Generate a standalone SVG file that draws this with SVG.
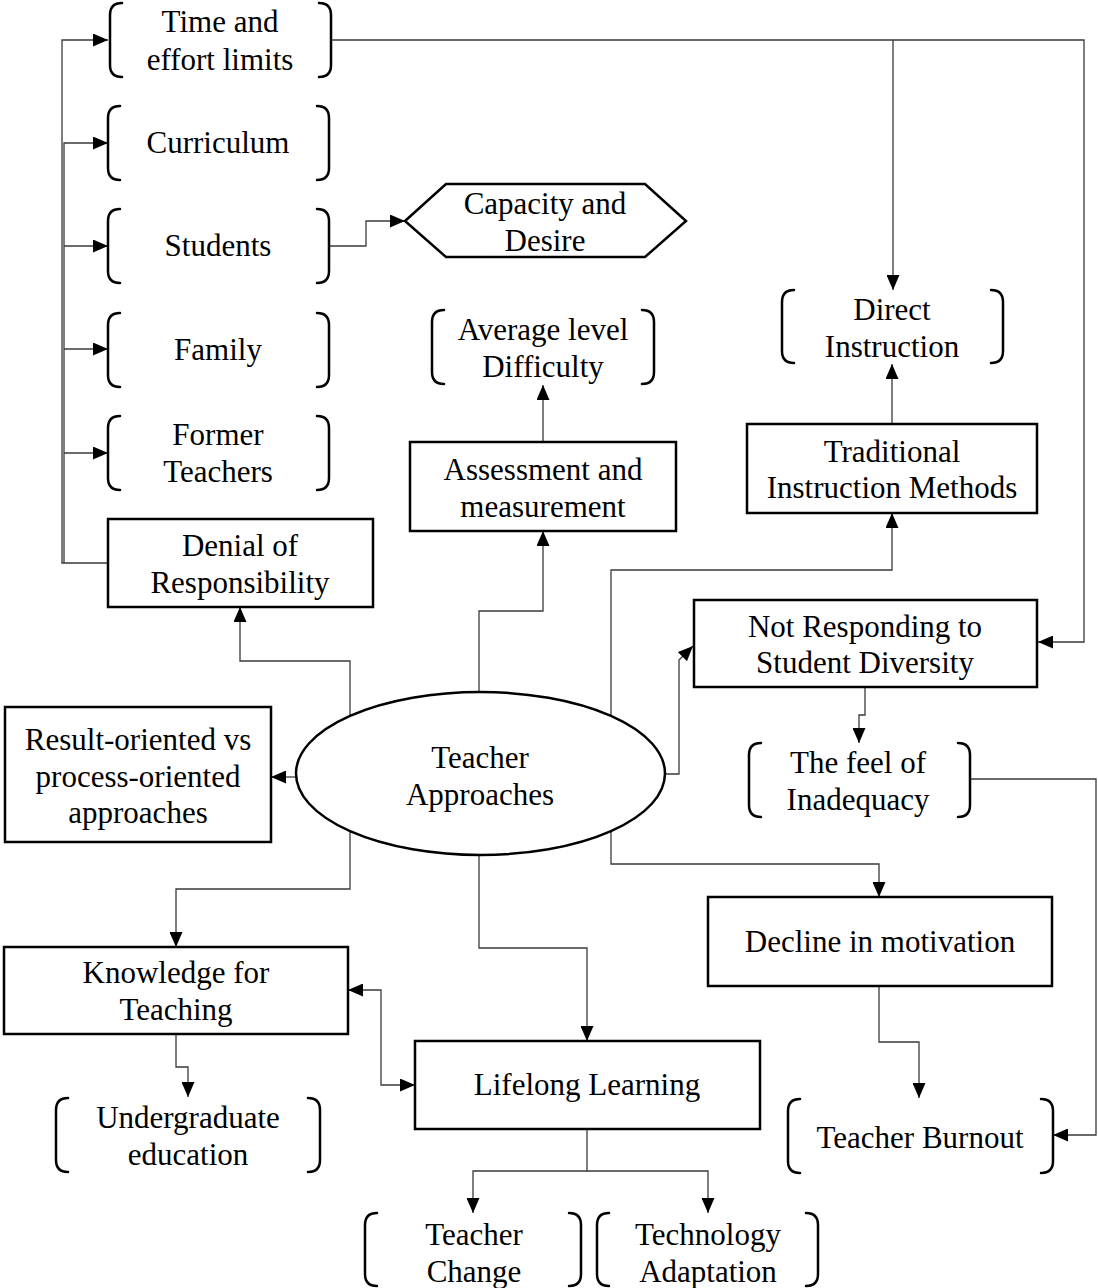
<svg xmlns="http://www.w3.org/2000/svg" width="1098" height="1288" viewBox="0 0 1098 1288" font-family="'Liberation Serif', 'DejaVu Serif', serif">
  <style>
    text { font-family: 'Liberation Serif', 'DejaVu Serif', serif; font-size: 31px; fill: #000; text-anchor: middle; }
    .box { fill: #fff; stroke: #000; stroke-width: 2.5; }
    .br { fill: none; stroke: #000; stroke-width: 2.5; stroke-linecap: round; }
    .c { fill: none; stroke: #3a3a3a; stroke-width: 1.3; }
    .a { marker-end: url(#arr); }
  </style>
  <defs>
    <marker id="arr" viewBox="0 0 15 13" markerWidth="15" markerHeight="13" markerUnits="userSpaceOnUse" refX="15" refY="6.5" orient="auto-start-reverse">
      <path d="M0,0 L15,6.5 L0,13 z" fill="#000"/>
    </marker>
  </defs>
  <rect width="1098" height="1288" fill="#fff"/>

  <!-- connectors -->
  <g id="connectors">
    <path class="c a" d="M331,40 H1084 V642 H1038"/>
    <path class="c a" d="M893,40 V290"/>
    <path class="c a" d="M108,563 H62 V40 H108"/>
    <path class="c a" d="M64,563 V143 H108"/>
    <path class="c a" d="M64,246 H108"/>
    <path class="c a" d="M64,349 H108"/>
    <path class="c a" d="M64,453 H108"/>
    <path class="c a" d="M329,246 H366 V221 H405"/>
    <path class="c a" d="M350,716 V661 H240 V607"/>
    <path class="c a" d="M479,692 V611 H543 V531"/>
    <path class="c a" d="M543,442 V385"/>
    <path class="c a" d="M892,424 V364"/>
    <path class="c a" d="M611,716 V570 H892 V513"/>
    <path class="c a" d="M665,774 H679 V660 L693,646"/>
    <path class="c a" d="M865,687 V715 H859 V743"/>
    <path class="c a" d="M970,779 H1096 V1135 H1053"/>
    <path class="c a" d="M296,777 H271"/>
    <path class="c a" d="M611,831 V864 H879 V897"/>
    <path class="c a" d="M879,986 V1042 H919 V1098"/>
    <path class="c a" d="M350,831 V889 H176 V947"/>
    <path class="c a" d="M176,1034 V1067 H188 V1097"/>
    <path class="c a" d="M348,990 H381 V1085 H415" marker-start="url(#arr)"/>
    <path class="c a" d="M479,855 V948 H587 V1041"/>
    <path class="c a" d="M587,1129 V1171 H473 V1213"/>
    <path class="c a" d="M587,1171 H708 V1213"/>
  </g>

  <!-- central node -->
  <g id="teacher-approaches">
    <ellipse class="box" cx="480.5" cy="773.5" rx="184.5" ry="81.5"/>
    <text x="480" y="768">Teacher</text>
    <text x="480" y="805">Approaches</text>
  </g>

  <!-- bracketed nodes -->
  <g id="time-effort">
    <path class="br" d="M122,3 Q110,3 110,15 V65 Q110,77 122,77 M319,3 Q331,3 331,15 V65 Q331,77 319,77"/>
    <text x="220" y="32">Time and</text>
    <text x="220" y="70">effort limits</text>
  </g>
  <g id="curriculum">
    <path class="br" d="M120,106 Q108,106 108,118 V168 Q108,180 120,180 M317,106 Q329,106 329,118 V168 Q329,180 317,180"/>
    <text x="218" y="153">Curriculum</text>
  </g>
  <g id="students">
    <path class="br" d="M120,209 Q108,209 108,221 V271 Q108,283 120,283 M317,209 Q329,209 329,221 V271 Q329,283 317,283"/>
    <text x="218" y="256">Students</text>
  </g>
  <g id="family">
    <path class="br" d="M120,313 Q108,313 108,325 V375 Q108,387 120,387 M317,313 Q329,313 329,325 V375 Q329,387 317,387"/>
    <text x="218" y="360">Family</text>
  </g>
  <g id="former-teachers">
    <path class="br" d="M120,416 Q108,416 108,428 V478 Q108,490 120,490 M317,416 Q329,416 329,428 V478 Q329,490 317,490"/>
    <text x="218" y="445">Former</text>
    <text x="218" y="482">Teachers</text>
  </g>
  <g id="average-difficulty">
    <path class="br" d="M444,310 Q432,310 432,322 V372 Q432,384 444,384 M642,310 Q654,310 654,322 V372 Q654,384 642,384"/>
    <text x="543" y="340">Average level</text>
    <text x="543" y="377">Difficulty</text>
  </g>
  <g id="direct-instruction">
    <path class="br" d="M794,290 Q782,290 782,302 V351 Q782,363 794,363 M991,290 Q1003,290 1003,302 V351 Q1003,363 991,363"/>
    <text x="892" y="320">Direct</text>
    <text x="892" y="357">Instruction</text>
  </g>
  <g id="feel-inadequacy">
    <path class="br" d="M761,743 Q749,743 749,755 V805 Q749,817 761,817 M958,743 Q970,743 970,755 V805 Q970,817 958,817"/>
    <text x="858" y="773">The feel of</text>
    <text x="858" y="810">Inadequacy</text>
  </g>
  <g id="undergraduate">
    <path class="br" d="M68,1098 Q56,1098 56,1110 V1160 Q56,1172 68,1172 M308,1098 Q320,1098 320,1110 V1160 Q320,1172 308,1172"/>
    <text x="188" y="1128">Undergraduate</text>
    <text x="188" y="1165">education</text>
  </g>
  <g id="teacher-burnout">
    <path class="br" d="M800,1099 Q788,1099 788,1111 V1161 Q788,1173 800,1173 M1041,1099 Q1053,1099 1053,1111 V1161 Q1053,1173 1041,1173"/>
    <text x="920" y="1148">Teacher Burnout</text>
  </g>
  <g id="teacher-change">
    <path class="br" d="M377,1213 Q365,1213 365,1225 V1274 Q365,1286 377,1286 M569,1213 Q581,1213 581,1225 V1274 Q581,1286 569,1286"/>
    <text x="474" y="1245">Teacher</text>
    <text x="474" y="1282">Change</text>
  </g>
  <g id="technology-adaptation">
    <path class="br" d="M609,1213 Q597,1213 597,1225 V1274 Q597,1286 609,1286 M806,1213 Q818,1213 818,1225 V1274 Q818,1286 806,1286"/>
    <text x="708" y="1245">Technology</text>
    <text x="708" y="1282">Adaptation</text>
  </g>

  <!-- hexagon node -->
  <g id="capacity-desire">
    <polygon class="box" points="405,221 446,184 645,184 686,221 645,257 446,257"/>
    <text x="545" y="214">Capacity and</text>
    <text x="545" y="251">Desire</text>
  </g>

  <!-- rectangular nodes -->
  <g id="denial">
    <rect class="box" x="108" y="519" width="265" height="88"/>
    <text x="240" y="556">Denial of</text>
    <text x="240" y="593">Responsibility</text>
  </g>
  <g id="assessment">
    <rect class="box" x="410" y="442" width="266" height="89"/>
    <text x="543" y="480">Assessment and</text>
    <text x="543" y="517">measurement</text>
  </g>
  <g id="traditional">
    <rect class="box" x="747" y="424" width="290" height="89"/>
    <text x="892" y="462">Traditional</text>
    <text x="892" y="498">Instruction Methods</text>
  </g>
  <g id="not-responding">
    <rect class="box" x="694" y="600" width="343" height="87"/>
    <text x="865" y="637">Not Responding to</text>
    <text x="865" y="673">Student Diversity</text>
  </g>
  <g id="result-process">
    <rect class="box" x="5" y="707" width="266" height="135"/>
    <text x="138" y="750">Result-oriented vs</text>
    <text x="138" y="787">process-oriented</text>
    <text x="138" y="823">approaches</text>
  </g>
  <g id="knowledge">
    <rect class="box" x="4" y="947" width="344" height="87"/>
    <text x="176" y="983">Knowledge for</text>
    <text x="176" y="1020">Teaching</text>
  </g>
  <g id="lifelong">
    <rect class="box" x="415" y="1041" width="345" height="88"/>
    <text x="587" y="1095">Lifelong Learning</text>
  </g>
  <g id="decline">
    <rect class="box" x="708" y="897" width="344" height="89"/>
    <text x="880" y="952">Decline in motivation</text>
  </g>
</svg>
